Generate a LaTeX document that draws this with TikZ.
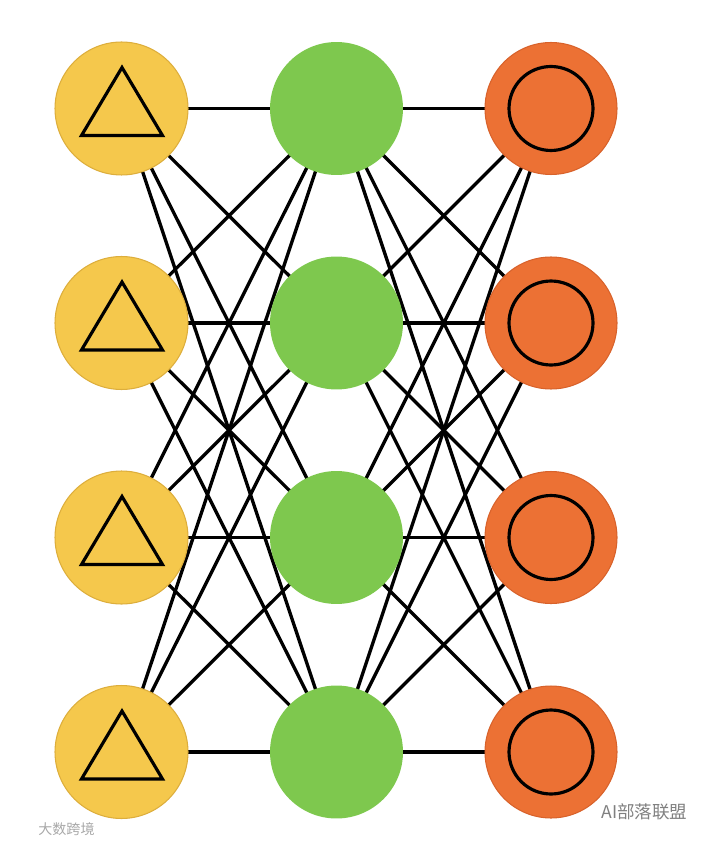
\documentclass[tikz,border=0pt]{standalone}
\usepackage{fontspec}
\newfontfamily\cjk{Noto Sans CJK SC}
\usepackage{tikz}
\usetikzlibrary{backgrounds}
\definecolor{inyellow}{HTML}{F5C84C}
\definecolor{inyellowrim}{HTML}{DDAE3C}
\definecolor{hidgreen}{HTML}{7EC84E}
\definecolor{outorange}{HTML}{EC7134}
\definecolor{outorangerim}{HTML}{D8622B}
\definecolor{markgray}{HTML}{A8A8A8}

\begin{document}
\begin{tikzpicture}[
    x=0.02cm, y=-0.02cm,
    inunit/.style={circle, minimum size=2.66cm, inner sep=0pt, fill=inyellow, draw=inyellowrim, line width=0.6pt,
      path picture={\draw[black, line width=1.8pt, line join=miter] ([shift={(-40,27)}]path picture bounding box.center)
        -- ++(81,0) -- ++(-40.5,-68) -- cycle;}},
    hidunit/.style={circle, minimum size=2.66cm, inner sep=0pt, fill=hidgreen},
    outunit/.style={circle, minimum size=2.64cm, inner sep=0pt, fill=outorange, draw=outorangerim, line width=0.6pt,
      path picture={\draw[black, line width=1.8pt] (path picture bounding box.center) circle[radius=0.84cm];}},
    wire/.style={line width=1.9pt, black},
    wmark/.style={text=markgray, inner sep=0pt}
  ]
    \useasboundingbox (0,0) rectangle (708,844);

    % input layer
    \node[inunit] (i1) at (121.5,108.5) {};
    \node[inunit] (i2) at (121.5,323) {};
    \node[inunit] (i3) at (121.5,537.5) {};
    \node[inunit] (i4) at (121.5,752) {};

    % hidden layer
    \node[hidunit] (h1) at (336.5,108.5) {};
    \node[hidunit] (h2) at (336.5,323) {};
    \node[hidunit] (h3) at (336.5,537.5) {};
    \node[hidunit] (h4) at (336.5,752) {};

    % output layer
    \node[outunit] (o1) at (551,108.5) {};
    \node[outunit] (o2) at (551,323) {};
    \node[outunit] (o3) at (551,537.5) {};
    \node[outunit] (o4) at (551,752) {};

    % every unit wired to every unit of the next layer
    \begin{scope}[on background layer]
      \foreach \a in {1,...,4}
        \foreach \b in {1,...,4} {
          \draw[wire] (i\a.center) -- (h\b.center);
          \draw[wire] (h\a.center) -- (o\b.center);
        }
    \end{scope}

    % watermarks
    \node[wmark, font=\cjk\fontsize{8}{8}\selectfont, anchor=west] (wm1) at (38,829) {大数跨境};
    \node[wmark, font=\cjk\fontsize{10}{10}\selectfont, text=gray, anchor=west] (wm2) at (601,812) {AI部落联盟};
  \end{tikzpicture}
\end{document}
